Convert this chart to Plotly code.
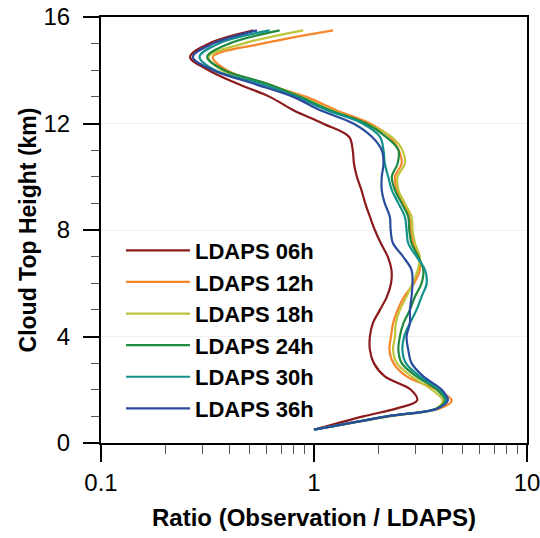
import plotly.graph_objects as go

# Hauteurs (km) et ratios Observation / LDAPS
heights = [0.5, 1.0, 1.3, 1.6, 2.0, 2.5, 3.0, 3.5, 4.0, 4.5, 5.0, 5.5, 6.0, 6.5, 7.0, 7.5,
           8.0, 8.5, 9.0, 9.5, 10.0, 10.5, 11.0, 11.5, 12.0, 12.5, 13.0, 13.5, 14.0, 14.5, 15.0, 15.5]

ratio_06h = [1.00, 1.70, 2.45, 3.05, 2.85, 2.15, 1.91, 1.83, 1.83, 1.89, 2.04, 2.20, 2.30, 2.31, 2.22, 2.06,
             1.93, 1.83, 1.74, 1.67, 1.59, 1.54, 1.52, 1.46, 1.10, 0.80, 0.62, 0.435, 0.32, 0.262, 0.32, 0.52]
ratio_12h = [1.00, 2.25, 3.90, 4.43, 3.77, 2.72, 2.36, 2.26, 2.30, 2.35, 2.47, 2.65, 2.95, 3.14, 3.10, 2.92,
             2.85, 2.80, 2.63, 2.45, 2.40, 2.58, 2.50, 2.27, 1.83, 1.27, 0.92, 0.58, 0.39, 0.335, 0.57, 1.23]
ratio_18h = [1.00, 2.20, 3.75, 4.02, 3.57, 2.87, 2.45, 2.35, 2.40, 2.42, 2.53, 2.72, 2.90, 3.07, 3.14, 2.98,
             2.90, 2.87, 2.67, 2.49, 2.47, 2.67, 2.60, 2.31, 1.76, 1.21, 0.87, 0.60, 0.37, 0.32, 0.465, 0.89]
ratio_24h = [1.00, 2.20, 3.77, 4.12, 3.77, 3.03, 2.58, 2.49, 2.53, 2.63, 2.82, 2.98, 3.20, 3.26, 3.09, 2.87,
             2.80, 2.77, 2.58, 2.40, 2.32, 2.47, 2.49, 2.18, 1.76, 1.19, 0.86, 0.60, 0.38, 0.315, 0.40, 0.69]
ratio_30h = [1.00, 2.20, 3.80, 4.20, 3.90, 3.14, 2.70, 2.60, 2.65, 2.82, 3.03, 3.20, 3.38, 3.32, 3.03, 2.77,
             2.72, 2.67, 2.49, 2.32, 2.23, 2.15, 2.12, 2.04, 1.69, 1.15, 0.83, 0.56, 0.343, 0.29, 0.355, 0.62]
ratio_36h = [1.00, 2.20, 3.80, 4.25, 3.98, 3.26, 2.87, 2.77, 2.72, 2.82, 2.82, 2.87, 2.90, 2.87, 2.62, 2.35,
             2.29, 2.27, 2.15, 2.08, 2.08, 2.12, 2.08, 1.87, 1.53, 1.07, 0.80, 0.52, 0.336, 0.27, 0.335, 0.54]

series_names = ["LDAPS 06h", "LDAPS 12h", "LDAPS 18h", "LDAPS 24h", "LDAPS 30h", "LDAPS 36h"]
series_values = [ratio_06h, ratio_12h, ratio_18h, ratio_24h, ratio_30h, ratio_36h]
colors = ["#8b1a1a", "#f7862a", "#bfc43a", "#1f8a3e", "#12918a", "#2a4c9c"]

x_ticks = [0.1, 1, 10]
y_ticks = [0, 4, 8, 12, 16]

fig = go.Figure()

for name, vals, col in zip(series_names, series_values, colors):
    fig.add_trace(go.Scatter(
        x=vals, y=heights,
        mode="lines",
        line=dict(color=col, width=2.2, shape="spline", smoothing=1.0),
        name="<b>" + name + "</b>"
    ))

fig.update_xaxes(
    type="log", range=[-1, 1], automargin=False, ticklabeloverflow="allow",
    tickvals=x_ticks, ticktext=[str(v) for v in x_ticks],
    ticks="outside", ticklen=17, tickwidth=2, tickcolor="black",
    minor=dict(ticks="outside", ticklen=9, tickwidth=1, tickcolor="#555555", dtick="D1", showgrid=False),
    showline=True, linewidth=2, linecolor="black", mirror=True,
    showgrid=False, zeroline=False,
    tickfont=dict(size=24, color="black"),
    title=dict(text="<b>Ratio (Observation / LDAPS)</b>", font=dict(size=24, color="black"), standoff=14),
)

fig.update_yaxes(
    range=[0, 16], automargin=False, ticklabeloverflow="allow",
    tickvals=y_ticks, ticklabelstandoff=8,
    ticks="outside", ticklen=16, tickwidth=2, tickcolor="black",
    minor=dict(ticks="outside", ticklen=8, tickwidth=1, tickcolor="#555555", dtick=1, showgrid=False),
    showline=True, linewidth=2, linecolor="black", mirror=True,
    showgrid=True, gridcolor="#f0f0f0", gridwidth=1, zeroline=False,
    tickfont=dict(size=24, color="black"),
    title=dict(text="<b>Cloud Top Height (km)</b>", font=dict(size=23, color="black"), standoff=0),
)

fig.update_layout(
    width=540, height=538,
    margin=dict(l=101, r=13, t=17, b=95),
    paper_bgcolor="white", plot_bgcolor="white",
    font=dict(family="Liberation Sans, Arial, sans-serif", color="black"),
    legend=dict(
        x=0.047, y=0.501, xanchor="left", yanchor="top",
        bgcolor="rgba(0,0,0,0)",
        font=dict(size=22, color="black"),
        itemwidth=64,
        tracegroupgap=0,
    ),
    showlegend=True,
)

# sans la marge par défaut du <body>, la figure occupe exactement la fenêtre
fig.write_html("out.html", config={"displayModeBar": False},
               post_script="document.body.style.margin='0px';")
